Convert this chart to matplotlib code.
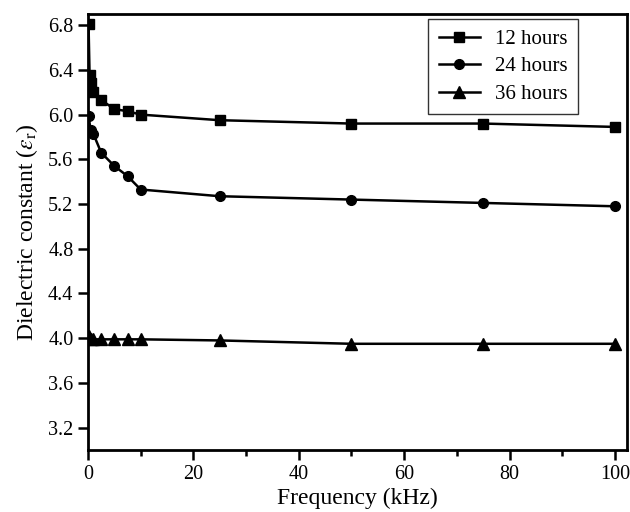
import matplotlib
matplotlib.use("Agg")
import matplotlib.pyplot as plt
from matplotlib.ticker import MultipleLocator

plt.rcParams['font.family'] = ['Liberation Serif', 'DejaVu Serif']
plt.rcParams['mathtext.fontset'] = 'stix'

freq_12 = [0.1, 0.3, 0.5, 1, 2.5, 5, 7.5, 10, 25, 50, 75, 100]
eps_12 = [6.81, 6.35, 6.28, 6.20, 6.13, 6.05, 6.03, 6.00, 5.95, 5.92, 5.92, 5.89]

freq_24 = [0.1, 0.5, 1, 2.5, 5, 7.5, 10, 25, 50, 75, 100]
eps_24 = [5.99, 5.86, 5.83, 5.66, 5.54, 5.45, 5.33, 5.27, 5.24, 5.21, 5.18]

freq_36 = [0.1, 0.5, 1, 2.5, 5, 7.5, 10, 25, 50, 75, 100]
eps_36 = [4.02, 3.99, 3.99, 3.99, 3.99, 3.99, 3.99, 3.98, 3.95, 3.95, 3.95]

labels = ['12 hours', '24 hours', '36 hours']

fig = plt.figure(figsize=(6.3, 5.12), dpi=100)
ax = fig.add_axes([88/630, 1 - 450/512, (627-88)/630, (450-14)/512])

ax.plot(freq_12, eps_12, '-s', color='black', lw=1.8, ms=6.5, label=labels[0])
ax.plot(freq_24, eps_24, '-o', color='black', lw=1.8, ms=7, label=labels[1])
ax.plot(freq_36, eps_36, '-^', color='black', lw=1.8, ms=8, label=labels[2])

ax.set_xlim(0, 102.3)
ax.set_ylim(3.0, 6.9)
ax.xaxis.set_major_locator(MultipleLocator(20))
ax.xaxis.set_minor_locator(MultipleLocator(10))
ax.set_yticks([3.2, 3.6, 4.0, 4.4, 4.8, 5.2, 5.6, 6.0, 6.4, 6.8])
ax.yaxis.set_major_formatter(matplotlib.ticker.FormatStrFormatter('%.1f'))
ax.tick_params(axis='both', which='major', direction='out', length=7, width=1.8,
               labelsize=14.5, colors='black')
ax.tick_params(axis='x', which='minor', direction='out', length=4, width=1.8)
for s in ax.spines.values():
    s.set_linewidth(2)

ax.set_xlabel('Frequency (kHz)', fontsize=17, labelpad=3)
ax.set_ylabel(r'Dielectric constant ($\varepsilon_\mathrm{r}$)', fontsize=17, labelpad=6)

leg = ax.legend(loc='upper right', bbox_to_anchor=(0.909, 0.989), fontsize=15,
                frameon=True, fancybox=False, edgecolor='black', handlelength=2.0,
                borderpad=0.5, labelspacing=0.38, borderaxespad=0, handletextpad=0.7)
leg.get_frame().set_linewidth(1.0)

fig.savefig('out.png', dpi=100)
